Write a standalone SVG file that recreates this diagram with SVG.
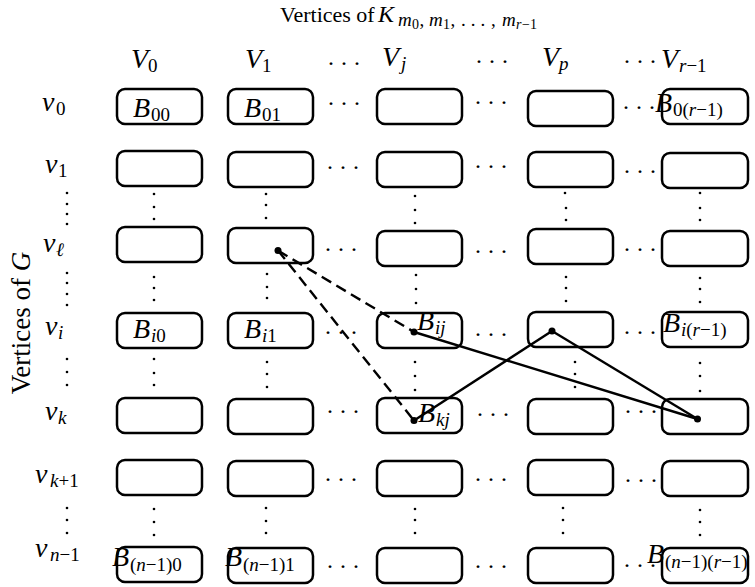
<svg xmlns="http://www.w3.org/2000/svg" width="755" height="587" viewBox="0 0 755 587" font-family="'Liberation Serif', 'Times New Roman', Times, serif">
<style>
text, tspan { font-family: "Liberation Serif", "Times New Roman", Times, serif; fill: #000; }
.rm { font-style: normal; }
.m { font-style: italic; font-size: 28px; }
.sb { font-size: 19px; font-style: normal; }
.si { font-style: italic; }
.box { fill: none; stroke: #000; stroke-width: 2.5; }
.hd { font-size: 24px; font-style: normal; letter-spacing: 7px; }
.vd { fill: #000; }
.edge { stroke: #000; stroke-width: 2.4; fill: none; }
.dash { stroke-dasharray: 11 6; }
.end { fill: #000; }
</style>
<rect width="755" height="587" fill="#fff"/>

<g id="title">
<text class="rm" x="280" y="22" font-size="22">Vertices of</text>
<text x="378" y="22" font-size="24" font-style="italic">K</text>
<text class="rm" y="26" font-size="19"><tspan class="si" x="398">m</tspan><tspan x="412" y="29" font-size="14">0</tspan><tspan x="419.5" y="26">,</tspan><tspan class="si" x="429">m</tspan><tspan x="443" y="29" font-size="14">1</tspan><tspan x="450.5" y="26">,</tspan><tspan x="461" letter-spacing="5">...</tspan><tspan x="491">,</tspan><tspan class="si" x="502">m</tspan><tspan class="si" x="516" y="29" font-size="14">r</tspan><tspan font-size="14" x="522">−1</tspan></text>
</g>

<g id="ylabel">
<text class="rm" font-size="27" text-anchor="middle" transform="translate(30,323) rotate(-90)">Vertices of <tspan class="si">G</tspan></text>
</g>

<g id="col-headers">
<text class="m" x="131" y="68">V<tspan class="sb" x="148" y="72">0</tspan></text>
<text class="m" x="245" y="68">V<tspan class="sb" x="262" y="72">1</tspan></text>
<text class="m" x="382" y="66">V<tspan class="sb si" x="401" y="70">j</tspan></text>
<text class="m" x="542" y="66">V<tspan class="sb si" x="559" y="70">p</tspan></text>
<text class="m" x="661" y="68">V<tspan class="sb" x="679" y="72"><tspan class="si">r</tspan>−1</tspan></text>
<text class="hd" x="328" y="65">...</text>
<text class="hd" x="476" y="63">...</text>
<text class="hd" x="624" y="63">...</text>
</g>

<g id="row-labels">
<text class="m" x="42" y="111">v<tspan class="sb" x="56" y="115">0</tspan></text>
<text class="m" x="45" y="173">v<tspan class="sb" x="58" y="177">1</tspan></text>
<text class="m" x="43" y="252">v<tspan class="sb si" x="56" y="256">ℓ</tspan></text>
<text class="m" x="45" y="335">v<tspan class="sb si" x="58" y="339">i</tspan></text>
<text class="m" x="45" y="420">v<tspan class="sb si" x="58" y="424">k</tspan></text>
<text class="m" x="35" y="483">v<tspan class="sb" x="50" y="487"><tspan class="si">k</tspan>+1</tspan></text>
<text class="m" x="35" y="557">v<tspan class="sb" x="50" y="561"><tspan class="si">n</tspan>−1</tspan></text>
</g>

<g id="row-0">
<g id="b-0-0"><rect class="box" x="117" y="89" width="85" height="35" rx="8"/><text class="m" x="133" y="117">B<tspan class="sb" x="151" y="121">00</tspan></text></g>
<g id="b-0-1"><rect class="box" x="228" y="89" width="85" height="35" rx="8"/><text class="m" x="244" y="117">B<tspan class="sb" x="262" y="121">01</tspan></text></g>
<g id="b-0-j"><rect class="box" x="377" y="89" width="85" height="35" rx="8"/></g>
<g id="b-0-p"><rect class="box" x="528" y="91" width="85" height="35" rx="8"/></g>
<g id="b-0-r"><rect class="box" x="662" y="89" width="86" height="35" rx="8"/><text class="m" x="655" y="112">B<tspan class="sb" x="673" y="116">0(<tspan class="si">r</tspan>−1)</tspan></text></g>
</g>

<g id="row-1">
<g id="b-1-0"><rect class="box" x="117" y="151" width="85" height="35" rx="8"/></g>
<g id="b-1-1"><rect class="box" x="228" y="152" width="85" height="35" rx="8"/></g>
<g id="b-1-j"><rect class="box" x="377" y="152" width="85" height="35" rx="8"/></g>
<g id="b-1-p"><rect class="box" x="528" y="152" width="85" height="35" rx="8"/></g>
<g id="b-1-r"><rect class="box" x="662" y="153" width="86" height="35" rx="8"/></g>
</g>

<g id="row-l">
<g id="b-l-0"><rect class="box" x="117" y="227" width="85" height="35" rx="8"/></g>
<g id="b-l-1"><rect class="box" x="228" y="228" width="85" height="35" rx="8"/></g>
<g id="b-l-j"><rect class="box" x="377" y="231" width="85" height="35" rx="8"/></g>
<g id="b-l-p"><rect class="box" x="528" y="229" width="85" height="35" rx="8"/></g>
<g id="b-l-r"><rect class="box" x="662" y="231" width="86" height="35" rx="8"/></g>
</g>

<g id="row-i">
<g id="b-i-0"><rect class="box" x="117" y="313" width="85" height="35" rx="8"/><text class="m" x="133" y="338">B<tspan class="sb" x="151" y="342"><tspan class="si">i</tspan>0</tspan></text></g>
<g id="b-i-1"><rect class="box" x="228" y="313" width="85" height="35" rx="8"/><text class="m" x="244" y="338">B<tspan class="sb" x="262" y="342"><tspan class="si">i</tspan>1</tspan></text></g>
<g id="b-i-j"><rect class="box" x="377" y="313" width="85" height="35" rx="8"/><text class="m" x="417" y="330">B<tspan class="sb si" x="435" y="334">ij</tspan></text></g>
<g id="b-i-p"><rect class="box" x="528" y="312" width="85" height="35" rx="8"/></g>
<g id="b-i-r"><rect class="box" x="662" y="312" width="86" height="35" rx="8"/><text class="m" x="663" y="332">B<tspan class="sb" x="681" y="336"><tspan class="si">i</tspan>(<tspan class="si">r</tspan>−1)</tspan></text></g>
</g>

<g id="row-k">
<g id="b-k-0"><rect class="box" x="117" y="398" width="85" height="35" rx="8"/></g>
<g id="b-k-1"><rect class="box" x="228" y="399" width="85" height="35" rx="8"/></g>
<g id="b-k-j"><rect class="box" x="377" y="398" width="85" height="35" rx="8"/><text class="m" x="418" y="422">B<tspan class="sb si" x="436" y="426">kj</tspan></text></g>
<g id="b-k-p"><rect class="box" x="528" y="399" width="85" height="35" rx="8"/></g>
<g id="b-k-r"><rect class="box" x="662" y="399" width="86" height="35" rx="8"/></g>
</g>

<g id="row-k1">
<g id="b-k1-0"><rect class="box" x="117" y="460" width="85" height="35" rx="8"/></g>
<g id="b-k1-1"><rect class="box" x="228" y="461" width="85" height="35" rx="8"/></g>
<g id="b-k1-j"><rect class="box" x="377" y="461" width="85" height="35" rx="8"/></g>
<g id="b-k1-p"><rect class="box" x="528" y="460" width="85" height="35" rx="8"/></g>
<g id="b-k1-r"><rect class="box" x="662" y="461" width="86" height="35" rx="8"/></g>
</g>

<g id="row-n">
<g id="b-n-0"><rect class="box" x="117" y="547" width="85" height="35" rx="8"/><text class="m" x="112" y="566">B<tspan class="sb" x="130" y="571">(<tspan class="si">n</tspan>−1)0</tspan></text></g>
<g id="b-n-1"><rect class="box" x="228" y="548" width="85" height="35" rx="8"/><text class="m" x="225" y="566">B<tspan class="sb" x="243" y="571">(<tspan class="si">n</tspan>−1)1</tspan></text></g>
<g id="b-n-j"><rect class="box" x="377" y="548" width="85" height="35" rx="8"/></g>
<g id="b-n-p"><rect class="box" x="528" y="548" width="85" height="35" rx="8"/></g>
<g id="b-n-r"><rect class="box" x="662" y="548" width="86" height="35" rx="8"/><text class="m" x="647" y="563">B<tspan class="sb" x="665" y="568">(<tspan class="si">n</tspan>−1)(<tspan class="si">r</tspan>−1)</tspan></text></g>
</g>

<g id="hdots">
<text class="hd" x="328" y="105">...</text><text class="hd" x="475" y="104">...</text><text class="hd" x="623" y="109">...</text>
<text class="hd" x="327" y="169">...</text><text class="hd" x="475" y="168">...</text><text class="hd" x="624" y="173">...</text>
<text class="hd" x="325" y="251">...</text><text class="hd" x="475" y="253">...</text><text class="hd" x="624" y="251">...</text>
<text class="hd" x="325" y="334">...</text><text class="hd" x="475" y="336">...</text><text class="hd" x="624" y="334">...</text>
<text class="hd" x="327" y="413">...</text><text class="hd" x="477" y="416">...</text><text class="hd" x="625" y="413">...</text>
<text class="hd" x="325" y="481">...</text><text class="hd" x="475" y="481">...</text><text class="hd" x="625" y="482">...</text>
<text class="hd" x="327" y="568">...</text><text class="hd" x="475" y="568">...</text><text class="hd" x="624" y="567">...</text>
</g>

<g id="vdots" class="vd">
<circle cx="67" cy="193" r="1.3"/><circle cx="67" cy="204" r="1.3"/><circle cx="67" cy="214" r="1.3"/><circle cx="67" cy="224" r="1.3"/>
<circle cx="67" cy="273" r="1.3"/><circle cx="67" cy="283" r="1.3"/><circle cx="67" cy="294" r="1.3"/><circle cx="67" cy="305" r="1.3"/>
<circle cx="67" cy="359" r="1.3"/><circle cx="67" cy="372" r="1.3"/><circle cx="67" cy="385" r="1.3"/>
<circle cx="67" cy="508" r="1.3"/><circle cx="67" cy="520" r="1.3"/><circle cx="67" cy="533" r="1.3"/>

<circle cx="154" cy="194" r="1.3"/><circle cx="154" cy="207" r="1.3"/><circle cx="154" cy="219" r="1.3"/>
<circle cx="154" cy="277" r="1.3"/><circle cx="154" cy="288" r="1.3"/><circle cx="154" cy="300" r="1.3"/>
<circle cx="154" cy="359" r="1.3"/><circle cx="154" cy="373" r="1.3"/><circle cx="154" cy="385" r="1.3"/>
<circle cx="154" cy="509" r="1.3"/><circle cx="154" cy="522" r="1.3"/><circle cx="154" cy="535" r="1.3"/>

<circle cx="266" cy="194" r="1.3"/><circle cx="266" cy="205" r="1.3"/><circle cx="266" cy="218" r="1.3"/>
<circle cx="267" cy="274" r="1.3"/><circle cx="267" cy="287" r="1.3"/><circle cx="267" cy="298" r="1.3"/>
<circle cx="267" cy="362" r="1.3"/><circle cx="267" cy="374" r="1.3"/><circle cx="267" cy="387" r="1.3"/>
<circle cx="266" cy="508" r="1.3"/><circle cx="266" cy="521" r="1.3"/><circle cx="266" cy="533" r="1.3"/>

<circle cx="415" cy="196" r="1.3"/><circle cx="415" cy="210" r="1.3"/><circle cx="415" cy="223" r="1.3"/>
<circle cx="416" cy="275" r="1.3"/><circle cx="416" cy="289" r="1.3"/><circle cx="416" cy="303" r="1.3"/>
<circle cx="415" cy="362" r="1.3"/><circle cx="415" cy="376" r="1.3"/><circle cx="415" cy="390" r="1.3"/>
<circle cx="415" cy="509" r="1.3"/><circle cx="415" cy="520" r="1.3"/><circle cx="415" cy="533" r="1.3"/>

<circle cx="565" cy="193" r="1.3"/><circle cx="566" cy="208" r="1.3"/><circle cx="566" cy="220" r="1.3"/>
<circle cx="566" cy="277" r="1.3"/><circle cx="566" cy="288" r="1.3"/><circle cx="566" cy="301" r="1.3"/>
<circle cx="575" cy="362" r="1.3"/><circle cx="575" cy="374" r="1.3"/><circle cx="575" cy="387" r="1.3"/>
<circle cx="563" cy="508" r="1.3"/><circle cx="563" cy="520" r="1.3"/><circle cx="563" cy="533" r="1.3"/>

<circle cx="700" cy="193" r="1.3"/><circle cx="700" cy="208" r="1.3"/><circle cx="700" cy="220" r="1.3"/>
<circle cx="700" cy="278" r="1.3"/><circle cx="700" cy="289" r="1.3"/><circle cx="700" cy="302" r="1.3"/>
<circle cx="700" cy="363" r="1.3"/><circle cx="700" cy="376" r="1.3"/><circle cx="700" cy="391" r="1.3"/>
<circle cx="700" cy="510" r="1.3"/><circle cx="700" cy="522" r="1.3"/><circle cx="700" cy="535" r="1.3"/>
</g>

<g id="connectors">
<line class="edge dash" x1="278" y1="250.5" x2="414" y2="332"/>
<line class="edge dash" x1="278" y1="250.5" x2="414" y2="420.5"/>
<line class="edge" x1="414" y1="332" x2="697.5" y2="419"/>
<line class="edge" x1="414" y1="420.5" x2="552" y2="331"/>
<line class="edge" x1="552" y1="331" x2="697.5" y2="419"/>
<circle class="end" cx="278" cy="250.5" r="3.5"/>
<circle class="end" cx="414" cy="332" r="3.5"/>
<circle class="end" cx="414" cy="420.5" r="3.5"/>
<circle class="end" cx="552" cy="331" r="3.5"/>
<circle class="end" cx="697.5" cy="419" r="3.5"/>
</g>
</svg>
